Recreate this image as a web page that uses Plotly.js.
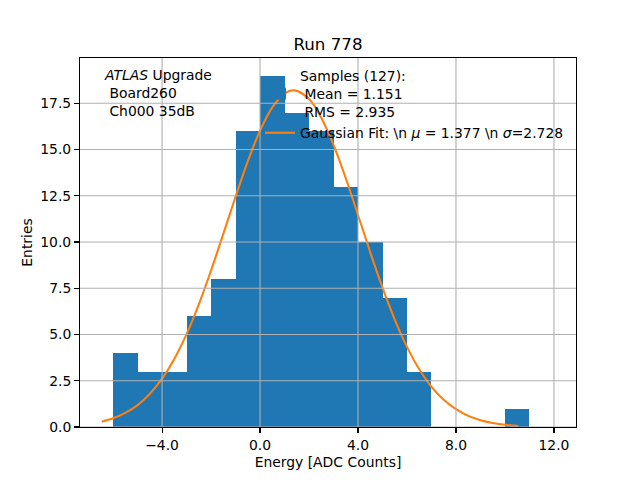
<!DOCTYPE html>
<html>
<head>
<meta charset="utf-8">
<script src="https://cdn.plot.ly/plotly-3.0.1.min.js"></script>
<style>html,body{margin:0;padding:0;background:#fff}#chart{width:640px;height:480px}</style>
</head>
<body>
<div id="chart"></div>
<script>
// Histogram: left bin edges (width 1) and counts
var binLeft = [-6, -5, -4, -3, -2, -1, 0, 1, 2, 3, 4, 5, 6, 7, 8, 9, 10];
var counts  = [ 4,  3,  3,  6,  8, 16, 19, 17, 16, 13, 10, 7, 3, 0, 0, 0, 1];

// Gaussian fit curve
var fitX = [-6.46, -6, -5.5, -5, -4.5, -4, -3.5, -3, -2.5, -2, -1.5, -1, -0.5, 0, 0.5, 1, 1.4, 2, 2.5, 3, 3.5, 4, 4.5, 5, 5.5, 6, 6.5, 7, 7.5, 8, 8.5, 9, 9.5, 10, 10.54];
var fitY = [0.29, 0.47, 0.76, 1.18, 1.79, 2.61, 3.68, 5.02, 6.63, 8.46, 10.44, 12.45, 14.36, 16.02, 17.28, 18.03, 18.2, 17.73, 16.72, 15.25, 13.45, 11.46, 9.45, 7.53, 5.81, 4.33, 3.12, 2.17, 1.47, 0.96, 0.60, 0.37, 0.22, 0.12, 0.06];

var xTicks = [-4, 0, 4, 8, 12];
var yTicks = [0, 2.5, 5, 7.5, 10, 12.5, 15, 17.5];

var histName = "Samples (127):<br> Mean = 1.151<br> RMS = 2.935";
var fitName = "Gaussian Fit: \\n <i>μ</i> = 1.377 \\n <i>σ</i>=2.728";
var titleText = "Run 778";
var xTitle = "Energy [ADC Counts]";
var yTitle = "Entries";
var infoText = "<i>ATLAS</i> Upgrade<br>&nbsp;Board260<br>&nbsp;Ch000 35dB";

var xRange = [-7.35, 12.9];
var yRange = [0, 19.95];

var gridColor = "#b0b0b0";
var shapes = [];
xTicks.forEach(function (v) {
  shapes.push({type: "line", xref: "x", yref: "paper", x0: v, x1: v, y0: 0, y1: 1,
    line: {color: gridColor, width: 1.1}, layer: "above"});
});
yTicks.forEach(function (v) {
  shapes.push({type: "line", xref: "paper", yref: "y", x0: 0, x1: 1, y0: v, y1: v,
    line: {color: gridColor, width: 1.1}, layer: "above"});
});

var traces = [
  {
    type: "bar", x: binLeft, y: counts, width: 1, offset: 0,
    marker: {color: "#1f77b4", line: {width: 0}},
    name: histName, hoverinfo: "skip"
  },
  {
    type: "scatter", mode: "lines", x: fitX, y: fitY,
    line: {color: "#ff7f0e", width: 2.08, shape: "spline"},
    name: fitName, hoverinfo: "skip"
  }
];

var font = {family: "DejaVu Sans, sans-serif", size: 13.9, color: "#000"};

var layout = {
  width: 640, height: 480,
  margin: {l: 80, r: 64, t: 58, b: 53, pad: 0},
  paper_bgcolor: "#fff", plot_bgcolor: "#fff",
  font: font,
  showlegend: true,
  bargap: 0,
  title: {text: titleText, font: {family: font.family, size: 16.7, color: "#000"},
    x: 0.5, xref: "paper", y: (480 - 44) / 480, yref: "container", yanchor: "middle"},
  xaxis: {
    range: xRange, tickvals: xTicks, tickformat: ".1f",
    showgrid: false, zeroline: false,
    showline: true, mirror: true, linecolor: "#000", linewidth: 1.1,
    ticks: "outside", ticklen: 4.9, tickwidth: 1.1, tickcolor: "#000",
    title: {text: xTitle, font: font, standoff: 5},
    layer: "above traces"
  },
  yaxis: {
    range: yRange, tickvals: yTicks, tickformat: ".1f",
    showgrid: false, zeroline: false,
    showline: true, mirror: true, linecolor: "#000", linewidth: 1.1,
    ticks: "outside", ticklen: 4.9, tickwidth: 1.1, tickcolor: "#000",
    title: {text: yTitle, font: font, standoff: 4},
    layer: "above traces"
  },
  legend: {
    x: (260 - 80) / 496, y: (427 - 60) / 369, xanchor: "left", yanchor: "top",
    bgcolor: "rgba(0,0,0,0)", borderwidth: 0, font: font, valign: "middle",
    traceorder: "normal"
  },
  shapes: shapes,
  annotations: [{
    text: infoText, xref: "paper", yref: "paper",
    x: (102 - 80) / 496, y: (427 - 65) / 369, xanchor: "left", yanchor: "top",
    showarrow: false, align: "left", font: font
  }]
};

Plotly.newPlot("chart", traces, layout, {staticPlot: true, displayModeBar: false});
</script>
</body>
</html>
